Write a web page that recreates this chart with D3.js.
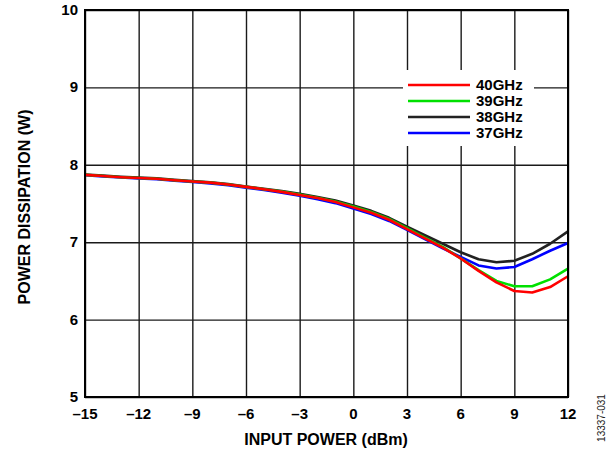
<!DOCTYPE html>
<html>
<head>
<meta charset="utf-8">
<script src="https://cdn.jsdelivr.net/npm/d3@7"></script>
<style>
  body { margin: 0; background: #fff; }
  text { font-family: "Liberation Sans", Arial, sans-serif; }
</style>
</head>
<body>
<svg id="chart" width="613" height="452"></svg>
<script>
let width = 613;
let height = 452;

let inputPower = [-15, -14, -13, -12, -11, -10, -9, -8, -7, -6, -5, -4, -3, -2, -1, 0,
  1, 2, 3, 4, 5, 6, 7, 8, 9, 10, 11, 12];

let p40 = [7.87, 7.855, 7.84, 7.83, 7.82, 7.80, 7.785, 7.77, 7.745, 7.715, 7.685, 7.65, 7.61, 7.57, 7.52, 7.45,
  7.38, 7.29, 7.17, 7.05, 6.93, 6.79, 6.63, 6.48, 6.37, 6.35, 6.42, 6.56];
let p39 = [7.87, 7.855, 7.84, 7.83, 7.82, 7.80, 7.785, 7.77, 7.745, 7.715, 7.685, 7.655, 7.615, 7.575, 7.525, 7.46,
  7.39, 7.30, 7.18, 7.06, 6.94, 6.79, 6.64, 6.50, 6.43, 6.43, 6.52, 6.66];
let p38 = [7.875, 7.86, 7.845, 7.835, 7.825, 7.805, 7.79, 7.775, 7.75, 7.72, 7.69, 7.66, 7.625, 7.585, 7.54, 7.475,
  7.405, 7.315, 7.20, 7.09, 6.98, 6.87, 6.78, 6.74, 6.76, 6.85, 6.98, 7.14];
let p37 = [7.865, 7.85, 7.835, 7.825, 7.815, 7.795, 7.78, 7.76, 7.735, 7.705, 7.675, 7.64, 7.60, 7.555, 7.505, 7.435,
  7.365, 7.275, 7.16, 7.04, 6.92, 6.81, 6.70, 6.66, 6.68, 6.78, 6.89, 6.99];

let seriesNames = ["40GHz", "39GHz", "38GHz", "37GHz"];
let seriesColors = ["#ff0000", "#00e000", "#222222", "#0000ff"];
let seriesValues = [p40, p39, p38, p37];

let xTicks = [-15, -12, -9, -6, -3, 0, 3, 6, 9, 12];
let yTicks = [5, 6, 7, 8, 9, 10];

let svg = d3.select("#chart");

let xScale = d3.scaleLinear().domain([-15, 12]).range([85, 568]);
let yScale = d3.scaleLinear().domain([5, 10]).range([397, 10]);

// grid
svg.append("g")
  .attr("transform", "translate(0,397)")
  .call(d3.axisBottom(xScale).tickValues(xTicks).tickSize(-387).tickFormat(""))
  .call(g => g.select(".domain").remove())
  .selectAll("line")
  .attr("stroke", "#1a1a1a")
  .attr("stroke-width", 1.4);

svg.append("g")
  .attr("transform", "translate(85,0)")
  .call(d3.axisLeft(yScale).tickValues(yTicks).tickSize(-483).tickFormat(""))
  .call(g => g.select(".domain").remove())
  .selectAll("line")
  .attr("stroke", "#1a1a1a")
  .attr("stroke-width", 1.4);

// legend background hides grid
svg.append("rect")
  .attr("x", 403)
  .attr("y", 70)
  .attr("width", 131)
  .attr("height", 76)
  .attr("fill", "#fff");

// curves
let line = d3.line()
  .x((d, i) => xScale(inputPower[i]))
  .y(d => yScale(d));

let drawOrder = [3, 2, 1, 0];
drawOrder.forEach(function(k) {
  svg.append("path")
    .datum(seriesValues[k])
    .attr("d", line)
    .attr("fill", "none")
    .attr("stroke", seriesColors[k])
    .attr("stroke-width", 2.6)
    .attr("stroke-linejoin", "round");
});

// frame
svg.append("rect")
  .attr("x", 85)
  .attr("y", 10)
  .attr("width", 483)
  .attr("height", 387)
  .attr("fill", "none")
  .attr("stroke", "#000")
  .attr("stroke-width", 2);

// tick labels
svg.selectAll(".xlab")
  .data(xTicks)
  .enter()
  .append("text")
  .attr("class", "xlab")
  .attr("x", d => xScale(d))
  .attr("y", 419)
  .attr("text-anchor", "middle")
  .attr("font-size", 15)
  .attr("font-weight", "bold")
  .text(d => d < 0 ? "\u2013" + Math.abs(d) : d);

svg.selectAll(".ylab")
  .data(yTicks)
  .enter()
  .append("text")
  .attr("class", "ylab")
  .attr("x", 78)
  .attr("y", d => yScale(d) + 5)
  .attr("text-anchor", "end")
  .attr("font-size", 15)
  .attr("font-weight", "bold")
  .text(d => d);

// axis titles
svg.append("text")
  .attr("x", 326)
  .attr("y", 445)
  .attr("text-anchor", "middle")
  .attr("font-size", 16)
  .attr("font-weight", "bold")
  .text("INPUT POWER (dBm)");

svg.append("text")
  .attr("transform", "translate(30,207) rotate(-90)")
  .attr("text-anchor", "middle")
  .attr("font-size", 16)
  .attr("font-weight", "bold")
  .text("POWER DISSIPATION (W)");

svg.append("text")
  .attr("transform", "translate(605,418) rotate(-90)")
  .attr("text-anchor", "middle")
  .attr("font-size", 10)
  .attr("fill", "#222")
  .text("13337-031");

// legend
let legend = svg.selectAll(".leg")
  .data(seriesNames)
  .enter()
  .append("g")
  .attr("class", "leg")
  .attr("transform", (d, i) => "translate(408," + (85 + i * 16) + ")");

legend.append("line")
  .attr("x1", 0)
  .attr("x2", 62)
  .attr("stroke", (d, i) => seriesColors[i])
  .attr("stroke-width", 2.6);

legend.append("text")
  .attr("x", 68)
  .attr("y", 5)
  .attr("font-size", 15)
  .attr("font-weight", "bold")
  .text(d => d);
</script>
</body>
</html>
